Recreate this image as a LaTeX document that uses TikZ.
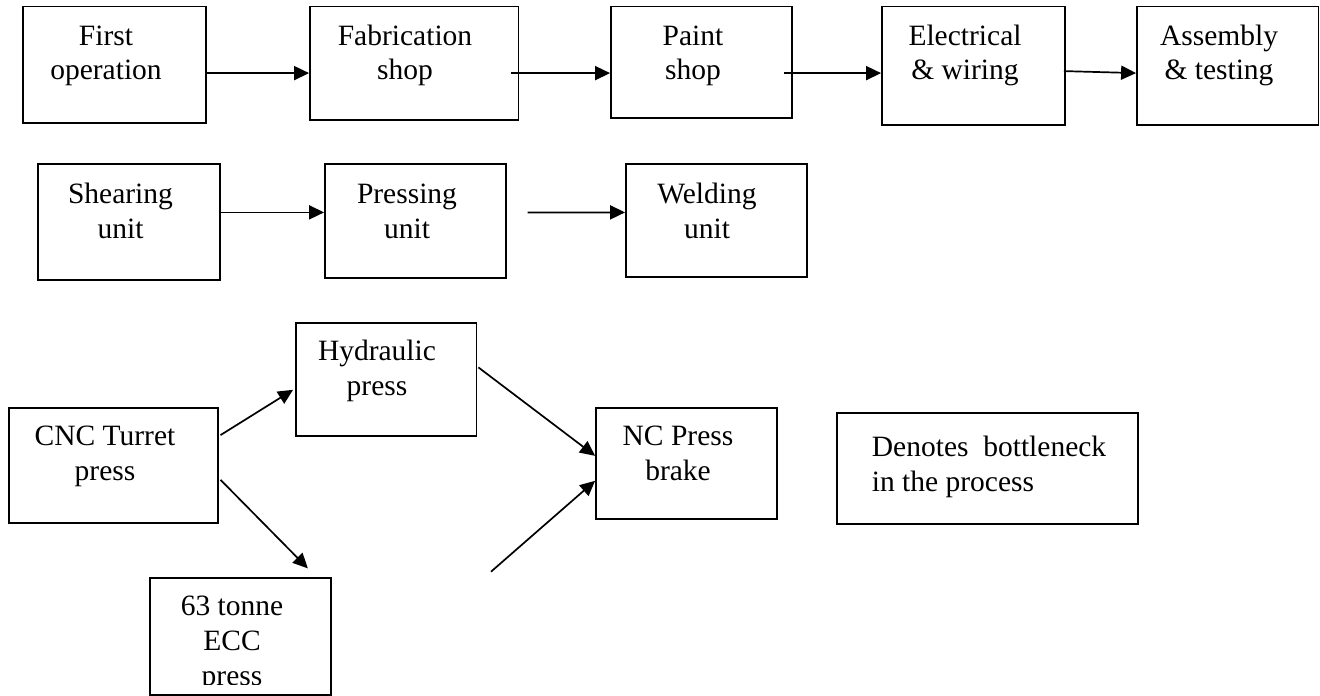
\documentclass[tikz,border=0pt]{standalone}
\usepackage{fontspec}
\setmainfont{Liberation Serif}
\usetikzlibrary{arrows.meta,fit,calc}
\newcommand\stackc[1]{\begin{tabular}[t]{@{}c@{}}#1\end{tabular}}
\newcommand\stackl[1]{\begin{tabular}[t]{@{}l@{}}#1\end{tabular}}
\begin{document}
\begin{tikzpicture}[x=1pt,y=-1pt,
  box/.style={draw, line width=1.8pt, rectangle, inner sep=0pt},
  lbl/.style={inner sep=0pt, anchor=base, font=\fontsize{29.5}{35}\selectfont},
  arr/.style={line width=1.7pt, -{Triangle[length=15pt,width=14pt]}}]
\useasboundingbox (0,0) rectangle (1320,696);

% Row 1
\node[box, fit={(23,6.5) (206,123)}] (first) {};
\node[box, fit={(310,6.5) (518.5,120)}] (fab) {};
\node[box, fit={(611,6.5) (792,118)}] (paint) {};
\node[box, fit={(882,6.5) (1065,125)}] (elec) {};
\node[box, fit={(1137,6.5) (1318.5,125)}] (assy) {};
\node[lbl] (tfirst) at (106,45) {\stackc{First\\operation}};
\node[lbl] (tfab) at (405,45) {\stackc{Fabrication\\shop}};
\node[lbl] (tpaint) at (693,45) {\stackc{Paint\\shop}};
\node[lbl] (telec) at (965,45) {\stackc{Electrical\\\& wiring}};
\node[lbl] (tassy) at (1219,45) {\stackc{Assembly\\\& testing}};
\draw[arr] ($(first.north east)+(0,67.5)$) -- ($(fab.north west)+(0,67.5)$);
\draw[arr] ($(fab.north east)+(-8.5,67.5)$) -- ($(paint.north west)+(0,67.5)$);
\draw[arr] ($(paint.north east)+(-9,67.5)$) -- ($(elec.north west)+(0,67.5)$);
\draw[arr] ($(elec.north east)+(-2,65.5)$) -- ($(assy.north west)+(0,67.5)$);

% Row 2
\node[box, fit={(38.3,164.3) (220,280)}] (shear) {};
\node[box, fit={(325,164.3) (506,278)}] (press) {};
\node[box, fit={(626,164.3) (807,276.7)}] (weld) {};
\node[lbl] (tshear) at (120.5,203) {\stackc{Shearing\\unit}};
\node[lbl] (tpress) at (407,203) {\stackc{Pressing\\unit}};
\node[lbl] (tweld) at (707,203) {\stackc{Welding\\unit}};
\draw[arr] ($(shear.north east)+(0,49)$) -- ($(press.north west)+(0,49)$);
\draw[arr] ($(press.north east)+(20.7,49)$) -- ($(weld.north west)+(0,49)$);

% Row 3
\node[box, fit={(296,322.7) (476.5,436)}] (hyd) {};
\node[box, fit={(8.7,407.7) (218,522.7)}] (cnc) {};
\node[box, fit={(596,408) (777,519)}] (nc) {};
\node[box, fit={(150,578.3) (331,695)}] (ecc) {};
\node[box, fit={(837,413) (1137.7,524)}] (den) {};
\node[lbl] (thyd) at (377,360.5) {\stackc{Hydraulic\\press}};
\node[lbl] (tcnc) at (105,445) {\stackc{CNC Turret\\press}};
\node[lbl] (tnc) at (678,445) {\stackc{NC Press\\brake}};
\node[lbl, anchor=base west] (tden) at (871.7,456.7) {\stackl{Denotes\ \ bottleneck\\in the process}};
\begin{scope}
  \clip (ecc.north west) rectangle ($(ecc.south east)+(0,-11)$);
  \node[lbl] (tecc) at (232,615) {\stackc{63 tonne\\ECC\\press}};
\end{scope}
\coordinate (free) at (491,571.7);
\draw[arr] ($(cnc.north east)+(1.6,28.3)$) -- ($(hyd.north west)+(-2,68)$);
\draw[arr] ($(cnc.north east)+(1.6,73)$) -- ($(ecc.north west)+(158.8,-9)$);
\draw[arr] ($(hyd.north east)+(1,45.6)$) -- ($(nc.north west)+(0,48.7)$);
\draw[arr] (free) -- ($(nc.north west)+(0,73.7)$);
\end{tikzpicture}
\end{document}
